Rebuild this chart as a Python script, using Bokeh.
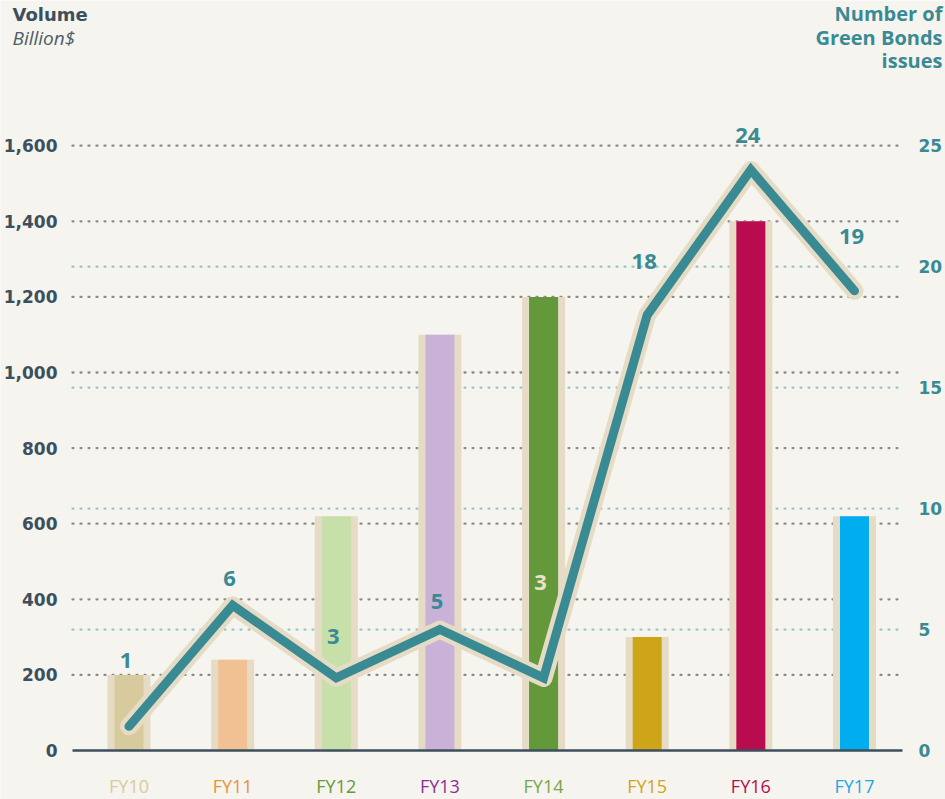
from bokeh.plotting import figure
from bokeh.models import ColumnDataSource, Range1d, LabelSet, Label
from bokeh.core.properties import value
from bokeh.embed import file_html
from bokeh.resources import INLINE

# ---------------- data ----------------
years = ["FY10", "FY11", "FY12", "FY13", "FY14", "FY15", "FY16", "FY17"]
volume_bn = [200, 240, 620, 1100, 1200, 300, 1400, 620]
issues = [1, 6, 3, 5, 3, 18, 24, 19]
volume_ticks = [0, 200, 400, 600, 800, 1000, 1200, 1400, 1600]
issue_ticks = [0, 5, 10, 15, 20, 25]

# ---------------- styles ----------------
bar_colors = ["#d7ca9c", "#f2c193", "#c7e0a9", "#c9b1d7",
              "#63993a", "#cfa518", "#b90c4e", "#00adee"]
year_colors = ["#d8cb9f", "#ef8f3a", "#66993a", "#8a2f96",
               "#79a549", "#d0a518", "#b90c4e", "#1aa9e6"]
issue_label_colors = ["#3a8a94"] * 4 + ["#eae2cc"] + ["#3a8a94"] * 3
issue_label_lift = [66, 27, 41, 28, 95, 54, 34, 54]   # px above the line point

BG = "#f5f4ee"
HALO = "#e6dcc6"
TEAL = "#3a8a94"
SLATE = "#3d4f5c"
W, H = 945, 799

# pixel layout of the drawing area
X0, XS = 128.5, 103.64      # px of first category, px per category
Y0, YS = 750.0, 0.378       # px of zero, px per billion
RATIO = issue_ticks[-1] / volume_ticks[-1]


def dx(px):
    return (px - X0) / XS


def dy(py):
    return (Y0 - py) / YS


GX0, GX1 = dx(72), dx(902)   # extent of grid / baseline

p = figure(width=W, height=H, output_backend="svg", toolbar_location=None,
           x_range=Range1d(dx(0), dx(W)), y_range=Range1d(dy(H), dy(0)),
           min_border=0, background_fill_color=BG, border_fill_color=BG,
           outline_line_color=None)
p.extra_y_ranges = {"right": Range1d(dy(H) * RATIO, dy(0) * RATIO)}
p.axis.visible = False
p.grid.visible = False

# grid lines
vt = volume_ticks[1:]
p.segment(x0=[GX0] * len(vt), x1=[GX1] * len(vt), y0=vt, y1=vt,
          line_color="#8a8a8a", line_dash="1 7", line_width=2.3,
          line_cap="round")
it = issue_ticks[1:-1]
p.segment(x0=[GX0] * len(it), x1=[GX1] * len(it), y0=it, y1=it,
          y_range_name="right", line_color="#93c5c9", line_dash="1 7",
          line_width=2.3, line_cap="round")

# tick labels
p.text(x=[GX0] * len(volume_ticks), y=volume_ticks,
       text=[f"{v:,}" for v in volume_ticks], x_offset=-15,
       text_align="right", text_baseline="middle", text_color=SLATE,
       text_font=value("DejaVu Sans"), text_font_style="bold",
       text_font_size="17px")
p.text(x=[GX1] * len(issue_ticks), y=issue_ticks, y_range_name="right",
       text=[str(v) for v in issue_ticks], x_offset=16,
       text_align="left", text_baseline="middle", text_color=TEAL,
       text_font=value("DejaVu Sans"), text_font_style="bold",
       text_font_size="17px")

# bars
src = ColumnDataSource(dict(x=list(range(len(years))), vol=volume_bn,
                            iss=issues, color=bar_colors, year=years,
                            ycol=year_colors, txt=[str(v) for v in issues],
                            lc=issue_label_colors, lift=issue_label_lift))
p.vbar(x="x", top="vol", bottom=0, width=0.415, fill_color=HALO,
       line_color=None, source=src)
p.vbar(x="x", top="vol", bottom=0, width=0.28, fill_color="color",
       line_color=None, source=src)

# baseline
p.segment(x0=[GX0], x1=[GX1], y0=[0], y1=[0], line_color=SLATE,
          line_width=2.6)

# line with halo
p.line(x="x", y="iss", y_range_name="right", source=src, line_color=HALO,
       line_width=18, line_cap="round", line_join="round")
p.line(x="x", y="iss", y_range_name="right", source=src, line_color=TEAL,
       line_width=9, line_cap="round", line_join="miter")

# issue labels
p.add_layout(LabelSet(x="x", y="iss", text="txt", y_range_name="right",
                      source=src, x_offset=-3, y_offset="lift",
                      text_align="center", text_baseline="middle",
                      text_color="lc", text_font=value("Open Sans"),
                      text_font_style="bold", text_font_size="22px"))

# year labels
p.add_layout(LabelSet(x="x", y=0, text="year", source=src, y_offset=-35,
                      text_align="center", text_baseline="middle",
                      text_color="ycol", text_font=value("Open Sans"),
                      text_font_size="18px"))


# titles
def title(text, px, py, align, color, style, size, font):
    p.add_layout(Label(x=dx(px), y=dy(py), text=text,
                       text_align=align, text_baseline="middle",
                       text_color=color, text_font=font,
                       text_font_style=style, text_font_size=size))


title("Volume", 12, 14, "left", SLATE, "bold", "18px", "DejaVu Sans")
title("Billion$", 12, 37, "left", "#4f5d68", "italic", "19px", "Open Sans")
title("Number of", 942, 13, "right", TEAL, "bold", "20px", "Open Sans")
title("Green Bonds", 942, 37, "right", TEAL, "bold", "20px", "Open Sans")
title("issues", 942, 60, "right", TEAL, "bold", "20px", "Open Sans")

open("out.html", "w").write(file_html(p, INLINE))
